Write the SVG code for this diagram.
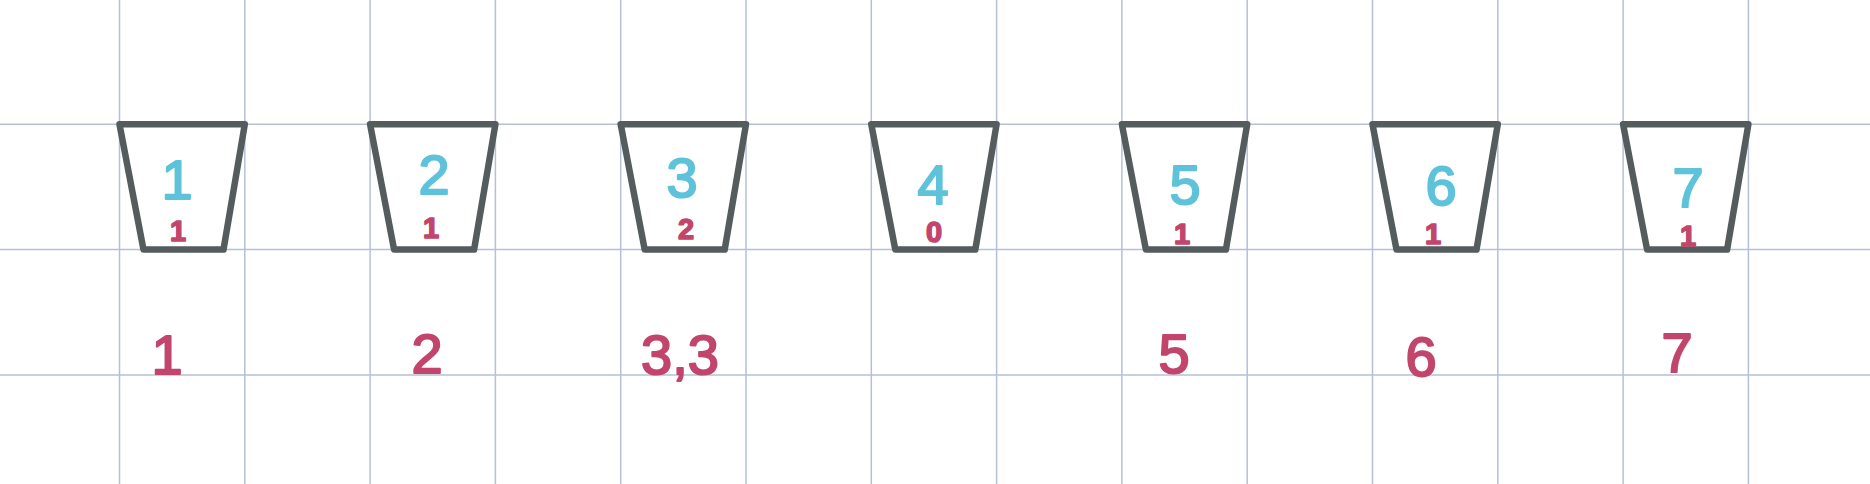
<svg xmlns="http://www.w3.org/2000/svg" width="1870" height="484" viewBox="0 0 1870 484">
<style>
.grid line{stroke:#b5c0d8;stroke-width:1.5}
.bin{fill:none;stroke:#545c5d;stroke-width:6.5;stroke-linejoin:round;stroke-linecap:round}
.t{font-family:"Liberation Sans",Arial,sans-serif;text-anchor:middle;stroke-linejoin:round;stroke-linecap:round}
.top{fill:#5ec3da;stroke:#5ec3da;stroke-width:2;font-size:56px}
.in{fill:#c2456c;stroke:#c2456c;stroke-width:1.5;font-size:29px;font-weight:bold}
.out{fill:#c2456c;stroke:#c2456c;stroke-width:2;font-size:56px}
</style>
<rect width="1870" height="484" fill="#ffffff"/>
<g class="grid" id="grid">
<line x1="119.5" y1="0" x2="119.5" y2="484"/>
<line x1="244.8" y1="0" x2="244.8" y2="484"/>
<line x1="370.1" y1="0" x2="370.1" y2="484"/>
<line x1="495.4" y1="0" x2="495.4" y2="484"/>
<line x1="620.7" y1="0" x2="620.7" y2="484"/>
<line x1="746" y1="0" x2="746" y2="484"/>
<line x1="871.3" y1="0" x2="871.3" y2="484"/>
<line x1="996.6" y1="0" x2="996.6" y2="484"/>
<line x1="1121.9" y1="0" x2="1121.9" y2="484"/>
<line x1="1247.2" y1="0" x2="1247.2" y2="484"/>
<line x1="1372.5" y1="0" x2="1372.5" y2="484"/>
<line x1="1497.8" y1="0" x2="1497.8" y2="484"/>
<line x1="1623.1" y1="0" x2="1623.1" y2="484"/>
<line x1="1748.4" y1="0" x2="1748.4" y2="484"/>
<line x1="0" y1="124.3" x2="1870" y2="124.3"/>
<line x1="0" y1="249.6" x2="1870" y2="249.6"/>
<line x1="0" y1="374.9" x2="1870" y2="374.9"/>
</g>
<g id="connectors"></g>
<g id="bin1">
<polygon class="bin" points="119.5,124.3 244.8,124.3 223.5,249.6 143.5,249.6"/>
<text class="t top" x="177" y="199">1</text>
<text class="t in" x="178" y="241">1</text>
</g>
<g id="bin2">
<polygon class="bin" points="370.1,124.3 495.4,124.3 474.1,249.6 394.1,249.6"/>
<text class="t top" x="434" y="194">2</text>
<text class="t in" x="431" y="238">1</text>
</g>
<g id="bin3">
<polygon class="bin" points="620.7,124.3 746,124.3 724.7,249.6 644.7,249.6"/>
<text class="t top" x="682" y="197">3</text>
<text class="t in" x="686" y="239">2</text>
</g>
<g id="bin4">
<polygon class="bin" points="871.3,124.3 996.6,124.3 975.3,249.6 895.3,249.6"/>
<text class="t top" x="933" y="204">4</text>
<text class="t in" x="934" y="242">0</text>
</g>
<g id="bin5">
<polygon class="bin" points="1121.9,124.3 1247.2,124.3 1225.9,249.6 1145.9,249.6"/>
<text class="t top" x="1185" y="204">5</text>
<text class="t in" x="1182" y="244">1</text>
</g>
<g id="bin6">
<polygon class="bin" points="1372.5,124.3 1497.8,124.3 1476.5,249.6 1396.5,249.6"/>
<text class="t top" x="1441" y="205">6</text>
<text class="t in" x="1433" y="244">1</text>
</g>
<g id="bin7">
<polygon class="bin" points="1623.1,124.3 1748.4,124.3 1727.1,249.6 1647.1,249.6"/>
<text class="t top" x="1688" y="207">7</text>
<text class="t in" x="1688" y="246">1</text>
</g>
<g id="labels">
<text class="t out" x="167" y="374">1</text>
<text class="t out" x="427" y="373">2</text>
<text class="t out" x="680" y="374">3,3</text>
<text class="t out" x="1174" y="373">5</text>
<text class="t out" x="1421" y="376">6</text>
<text class="t out" x="1677" y="372">7</text>
</g>
</svg>
